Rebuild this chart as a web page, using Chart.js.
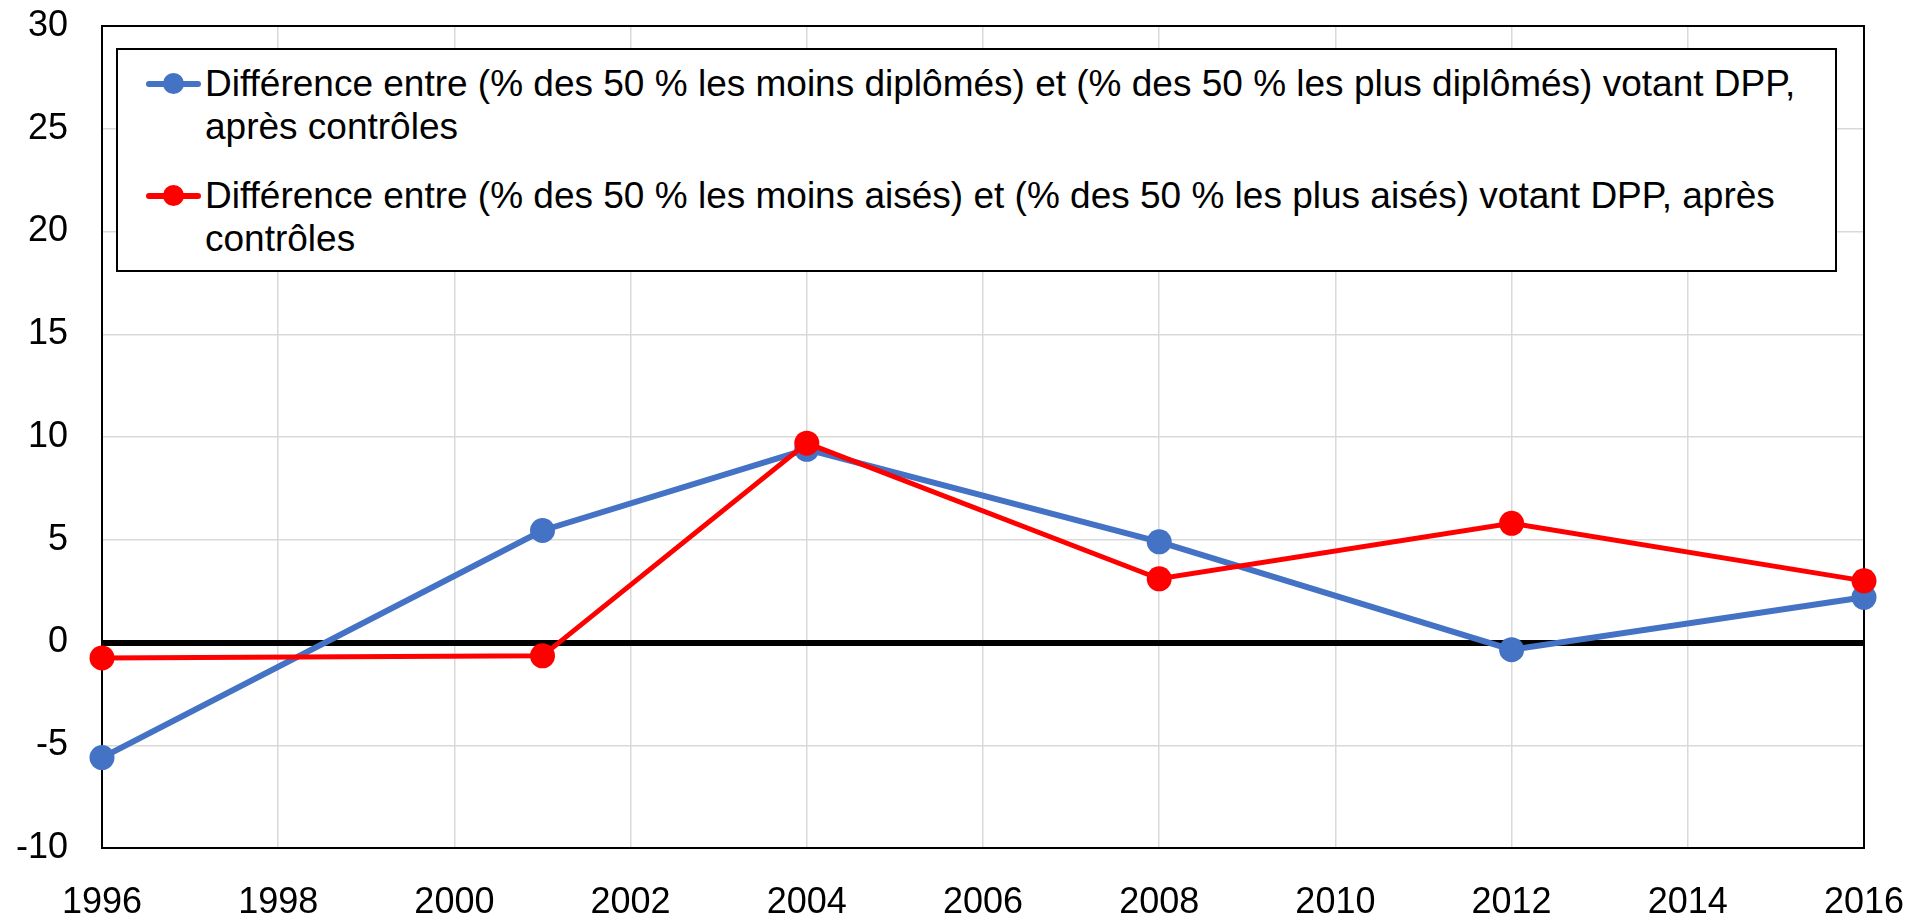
<!DOCTYPE html>
<html>
<head>
<meta charset="utf-8">
<script src="https://cdn.jsdelivr.net/npm/chart.js@4.4.0/dist/chart.umd.min.js"></script>
<style>
  html, body { margin: 0; padding: 0; background: #fff; }
  #wrap { position: relative; width: 1910px; height: 922px; }
  #legend {
    position: absolute; left: 116px; top: 48px; width: 1717px; height: 220px;
    border: 2px solid #000; background: #fff;
    font-family: "Liberation Sans", Arial, sans-serif; font-size: 37px; color: #000;
  }
  .item { position: absolute; left: 0; right: 0; line-height: 43px; }
  .line { position: absolute; left: 28px; top: 19px; width: 55px; height: 6px; border-radius: 3px; }
  .dot { position: absolute; left: 45px; top: 11px; width: 21px; height: 21px; border-radius: 50%; }
  .txt { position: absolute; left: 87px; white-space: nowrap; }
</style>
</head>
<body>
<div id="wrap">
  <canvas id="chart" width="1910" height="922"></canvas>
  <div id="legend"></div>
</div>
<script>
// data
const years = [1996, 2001, 2004, 2008, 2012, 2016];
const diplomes = [-5.6, 5.45, 9.4, 4.9, -0.35, 2.2];
const aises = [-0.75, -0.65, 9.7, 3.1, 5.8, 3.0];

const labelDiplomes = ['Différence entre (% des 50 % les moins diplômés) et (% des 50 % les plus diplômés) votant DPP,', 'après contrôles'];
const labelAises = ['Différence entre (% des 50 % les moins aisés) et (% des 50 % les plus aisés) votant DPP, après', 'contrôles'];

const blue = '#4472C4';
const red = '#FF0000';

function toPoints(vals) {
    return years.map((y, i) => ({ x: y, y: vals[i] }));
}

// frame round the plot area
const framePlugin = {
    id: 'frame',
    beforeDatasetsDraw(chart) {
        const a = chart.chartArea;
        const ctx = chart.ctx;
        ctx.save();
        ctx.strokeStyle = '#000';
        ctx.lineWidth = 2;
        ctx.strokeRect(a.left, a.top, a.right - a.left, a.bottom - a.top);
        ctx.restore();
    }
};

Chart.defaults.font.family = '"Liberation Sans", Arial, sans-serif';
Chart.defaults.font.size = 36;
Chart.defaults.color = '#000';

const ctx = document.getElementById('chart').getContext('2d');
const chart = new Chart(ctx, {
    type: 'line',
    data: {
        datasets: [
            {
                label: labelDiplomes.join(' '),
                data: toPoints(diplomes),
                borderColor: blue,
                backgroundColor: blue,
                borderWidth: 6,
                pointRadius: 12.5,
                pointHoverRadius: 12.5,
                pointBorderWidth: 0,
                clip: false,
                order: 2
            },
            {
                label: labelAises.join(' '),
                data: toPoints(aises),
                borderColor: red,
                backgroundColor: red,
                borderWidth: 5,
                pointRadius: 12.5,
                pointHoverRadius: 12.5,
                pointBorderWidth: 0,
                clip: false,
                order: 1
            }
        ]
    },
    options: {
        responsive: false,
        animation: false,
        layout: { padding: { top: 26, right: 46, left: 0, bottom: 0 } },
        plugins: { legend: { display: false }, tooltip: { enabled: false } },
        scales: {
            x: {
                type: 'linear',
                min: 1996,
                max: 2016,
                ticks: { stepSize: 2, padding: 0, callback: v => String(v) },
                // invisible tick marks keep the labels away from the axis
                grid: { color: '#d9d9d9', lineWidth: 1.5, drawTicks: true, tickLength: 33, tickColor: 'rgba(0,0,0,0)' },
                border: { display: false },
                afterFit: s => { s.height = 74; }
            },
            y: {
                min: -10,
                max: 30,
                ticks: { stepSize: 5, padding: 0 },
                grid: {
                    color: c => c.tick && c.tick.value === 0 ? '#000' : '#d9d9d9',
                    lineWidth: c => c.tick && c.tick.value === 0 ? 6 : 1.5,
                    drawTicks: true,
                    tickLength: 34,
                    tickColor: 'rgba(0,0,0,0)'
                },
                border: { display: false },
                afterFit: s => { s.width = 102; }
            }
        }
    },
    plugins: [framePlugin]
});

// legend box with wrapped lines
const legend = document.getElementById('legend');
[[labelDiplomes, blue, 12], [labelAises, red, 124]].forEach(([lines, col, top]) => {
    const item = document.createElement('div');
    item.className = 'item';
    item.style.top = top + 'px';
    item.innerHTML = `
        <div class="line" style="background:${col}"></div>
        <div class="dot" style="background:${col}"></div>
        <div class="txt">${lines.join('<br>')}</div>
    `;
    legend.appendChild(item);
});
</script>
</body>
</html>
